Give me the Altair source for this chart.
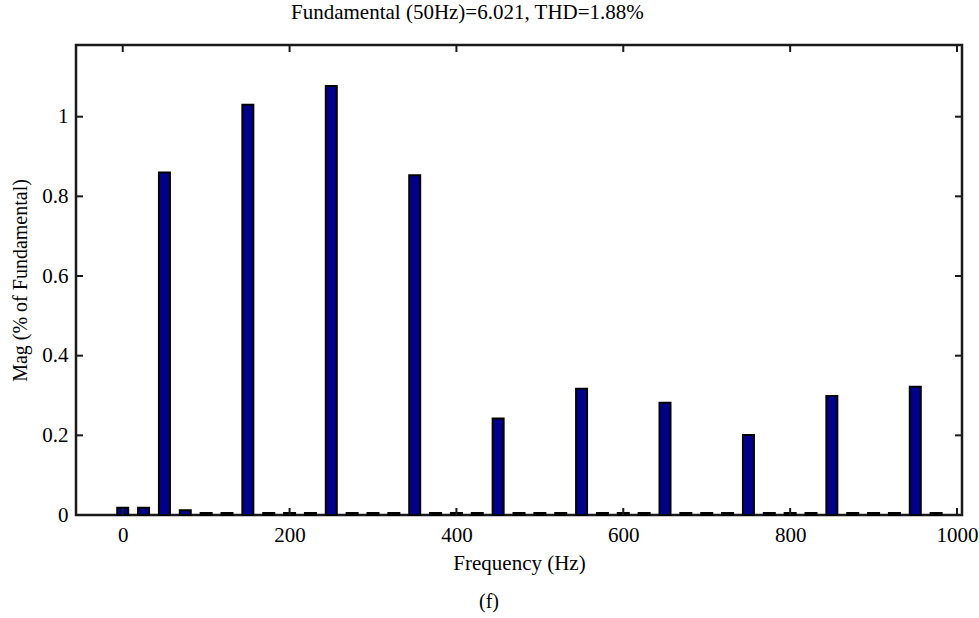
import altair as alt
import pandas as pd

# ---- data ----
freqs = [0, 25, 50, 75, 100, 125, 150, 175, 200, 225,
         250, 275, 300, 325, 350, 375, 400, 425, 450, 475,
         500, 525, 550, 575, 600, 625, 650, 675, 700, 725,
         750, 775, 800, 825, 850, 875, 900, 925, 950, 975]
mags = [0.018, 0.018, 0.860, 0.012, 0.005, 0.005, 1.030, 0.005, 0.005, 0.005,
        1.077, 0.005, 0.005, 0.005, 0.853, 0.005, 0.005, 0.005, 0.242, 0.005,
        0.005, 0.005, 0.317, 0.005, 0.005, 0.005, 0.282, 0.005, 0.005, 0.005,
        0.201, 0.005, 0.005, 0.005, 0.299, 0.005, 0.005, 0.005, 0.322, 0.005]
x_ticks = [0, 200, 400, 600, 800, 1000]
y_ticks = [0, 0.2, 0.4, 0.6, 0.8, 1.0]
title_text = "Fundamental (50Hz)=6.021, THD=1.88%"
x_title = "Frequency (Hz)"
y_title = "Mag (% of Fundamental)"
caption = "(f)"

W, H = 886, 470
FONT = "Liberation Serif"
INK = "#000000"

df = pd.DataFrame({"freq": freqs, "mag": mags})
dfx = pd.DataFrame({"freq": x_ticks})
dfy = pd.DataFrame({"mag": y_ticks})

xscale = alt.Scale(domain=[-50, 1000], nice=False, zero=False)
yscale = alt.Scale(domain=[0, 1.18], nice=False)

xaxis = alt.Axis(values=x_ticks, format="d", ticks=False, domain=False, grid=False,
                 labelFont=FONT, labelFontSize=21, labelColor=INK, labelPadding=9,
                 labelFlush=True, labelFlushOffset=12,
                 titleFont=FONT, titleFontSize=21, titleFontWeight="normal",
                 titleColor=INK, titlePadding=7)
yaxis = alt.Axis(values=y_ticks, format=".1~f", ticks=False, domain=False, grid=False,
                 labelFont=FONT, labelFontSize=21, labelColor=INK, labelPadding=8,
                 titleFont=FONT, titleFontSize=20, titleFontWeight="normal",
                 titleColor=INK, titlePadding=11)

X = alt.X("freq:Q", scale=xscale, axis=xaxis, title=x_title)
Y = alt.Y("mag:Q", scale=yscale, axis=yaxis, title=y_title)

bars = alt.Chart(df).mark_bar(width=11, fill="#00008b", stroke="#000000",
                              strokeWidth=2).encode(x=X, y=Y)

TL = 7
tick_style = dict(color="#1a1a1a", strokeWidth=2)
xt_bottom = alt.Chart(dfx).mark_rule(**tick_style).encode(
    x=X, y=alt.value(H), y2=alt.value(H - TL))
xt_top = alt.Chart(dfx).mark_rule(**tick_style).encode(
    x=X, y=alt.value(0), y2=alt.value(TL))
yt_left = alt.Chart(dfy).mark_rule(**tick_style).encode(
    y=Y, x=alt.value(0), x2=alt.value(TL))
yt_right = alt.Chart(dfy).mark_rule(**tick_style).encode(
    y=Y, x=alt.value(W), x2=alt.value(W - TL))

cap = alt.Chart(pd.DataFrame({"t": [caption]})).mark_text(
    font=FONT, fontSize=20, color=INK, baseline="middle", align="center").encode(
    text="t:N", x=alt.value(413), y=alt.value(557))

chart = alt.layer(bars, xt_bottom, xt_top, yt_left, yt_right, cap).properties(
    width=W, height=H,
    background="white",
    autosize=alt.AutoSizeParams(type="none"),
    padding={"left": 76, "top": 45, "right": 17, "bottom": 103},
    title=alt.TitleParams(title_text, font=FONT, fontSize=21, fontWeight="normal",
                          color=INK, anchor="start", frame="group", dx=215,
                          baseline="alphabetic", offset=4),
).configure_view(stroke="#1a1a1a", strokeWidth=2.5)

chart.save("out.html", embed_options={"renderer": "svg", "actions": False})
